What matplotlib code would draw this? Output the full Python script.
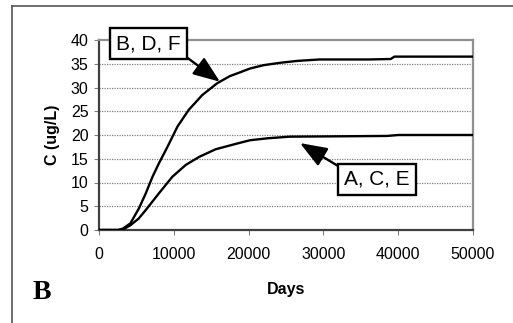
import matplotlib
matplotlib.use("Agg")
import matplotlib.pyplot as plt
from matplotlib.lines import Line2D

plt.rcParams['font.family'] = ['Liberation Sans', 'DejaVu Sans']

# Data
days_bdf = [0, 2600, 3200, 4200, 5350, 6250, 7150, 8000, 9150, 10500, 12000, 13800,
            15800, 17500, 18700, 20200, 22000, 24200, 26500, 29500, 32000, 36000,
            39000, 39500, 50000]
c_bdf = [0, 0, 0.3, 1.4, 4.6, 7.7, 11.2, 14.0, 17.5, 21.8, 25.3, 28.4,
         30.9, 32.4, 33.1, 34.0, 34.7, 35.2, 35.6, 35.9, 35.9, 35.9,
         36.0, 36.5, 36.5]

days_ace = [0, 2600, 3300, 4200, 5300, 6250, 8000, 9800, 11600, 13400, 15600,
            17500, 18700, 20200, 22500, 25500, 30000, 38500, 40000, 50000]
c_ace = [0, 0, 0.2, 1.0, 2.4, 4.2, 7.7, 11.2, 13.7, 15.4, 17.0,
         17.8, 18.3, 18.9, 19.3, 19.65, 19.7, 19.8, 20.0, 20.0]

x_ticks = [0, 10000, 20000, 30000, 40000, 50000]
y_ticks = [0, 5, 10, 15, 20, 25, 30, 35, 40]
label_bdf = "B, D, F"
label_ace = "A, C, E"

W, H = 513, 323
fig = plt.figure(figsize=(W / 100, H / 100), dpi=100)
ax = fig.add_axes([99 / W, (H - 230) / H, (473 - 99) / W, (230 - 40) / H])

for y in y_ticks[1:-1]:
    ax.axhline(y, color='#808080', lw=0.9, ls=(0, (1, 1)), zorder=1)

ax.plot(days_bdf, c_bdf, color='black', lw=1.7, zorder=3)
ax.plot(days_ace, c_ace, color='black', lw=1.7, zorder=3)

ax.set_xlim(0, 50000)
ax.set_ylim(0, 40)
ax.set_xticks(x_ticks)
ax.set_yticks(y_ticks)
ax.tick_params(axis='both', direction='out', length=3.5, width=0.8,
               color='#808080', labelsize=11.5)
ax.tick_params(axis='x', pad=9)
ax.tick_params(axis='y', pad=4)
for s in ['top', 'right']:
    ax.spines[s].set_color('#909090')
    ax.spines[s].set_linewidth(1.6)
for s in ['left', 'bottom']:
    ax.spines[s].set_color('#404040')
    ax.spines[s].set_linewidth(1.6)

ax.set_xlabel('Days', fontweight='bold', fontsize=11.5, labelpad=14)
ax.set_ylabel('C (ug/L)', fontweight='bold', fontsize=11.5, labelpad=8)

bbox = dict(boxstyle='square,pad=0.28', fc='white', ec='black', lw=1.7)
arrow = '-|>,head_length=1.1,head_width=0.42'
ax.annotate(label_bdf, xy=(16176, 31.2), xytext=(6618, 39.26),
            textcoords='data', ha='center', va='center', fontsize=15,
            bbox=bbox, annotation_clip=False, zorder=5,
            arrowprops=dict(arrowstyle=arrow, fc='black', ec='black', lw=1.7,
                            relpos=(1, 0), shrinkA=0, shrinkB=0))
ax.annotate(label_ace, xy=(26870, 18.3), xytext=(37166, 10.7),
            textcoords='data', ha='center', va='center', fontsize=15,
            bbox=bbox, annotation_clip=False, zorder=5,
            arrowprops=dict(arrowstyle=arrow, fc='black', ec='black', lw=1.7,
                            relpos=(0, 1), shrinkA=0, shrinkB=0))

fig.text(33 / W, (H - 299) / H, 'B', fontsize=20, fontweight='bold',
         family='Liberation Serif', ha='left', va='baseline')

fig.add_artist(Line2D([12 / W, 12 / W], [0, (H - 6) / H], color='#555555', lw=1.2))
fig.add_artist(Line2D([12 / W, 1], [(H - 6) / H, (H - 6) / H], color='#555555', lw=1.2))

fig.savefig('out.png', dpi=100)
